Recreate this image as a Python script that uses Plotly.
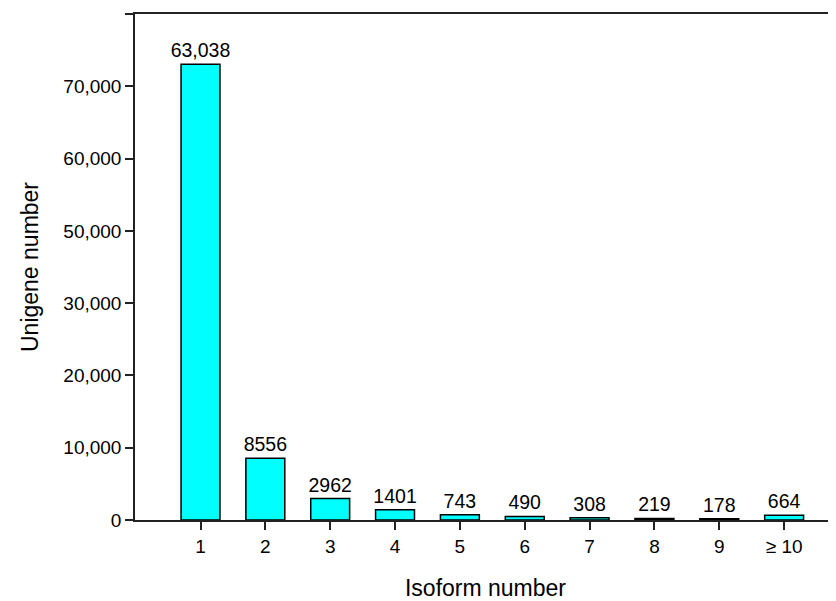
import plotly.graph_objects as go

categories = ["1", "2", "3", "4", "5", "6", "7", "8", "9", "≥ 10"]
values = [63038, 8556, 2962, 1401, 743, 490, 308, 219, 178, 664]
bar_labels = ["63,038", "8556", "2962", "1401", "743", "490", "308", "219", "178", "664"]
y_tickvals = [0, 10000, 20000, 30000, 40000, 50000, 60000, 70000]
y_ticktext = ["0", "10,000", "20,000", "30,000", "50,000", "60,000", "70,000", ""]

FONT = "Liberation Sans, Arial, sans-serif"

# The page body has an 8px default margin, so the figure is sized to fit the 836x601 window.
fig = go.Figure(go.Bar(
    x=list(range(len(categories))),
    y=values,
    width=0.6,
    marker=dict(color="#00FFFF", line=dict(color="#000000", width=1.5)),
    text=bar_labels,
    textposition="outside",
    textangle=0,
    constraintext="none",
    cliponaxis=False,
    textfont=dict(family=FONT, size=19.5, color="#000000"),
))

fig.update_layout(
    width=828, height=593,
    margin=dict(l=127, r=0, t=6, b=81),
    plot_bgcolor="white", paper_bgcolor="white",
    showlegend=False,
    font=dict(family=FONT, size=19, color="#000000"),
    xaxis=dict(
        range=[-1.01, 9.8],
        tickvals=list(range(len(categories))),
        ticktext=categories,
        ticks="outside", ticklen=8, tickwidth=1.5, tickcolor="#222",
        showline=True, linecolor="#222", linewidth=1.5, mirror=True,
        showgrid=False, zeroline=False,
        tickfont=dict(size=19),
        title=dict(text="Isoform number", font=dict(size=23), standoff=27),
    ),
    yaxis=dict(
        range=[0, 70000],
        tickvals=y_tickvals,
        ticktext=y_ticktext,
        ticks="outside", ticklen=8, tickwidth=1.5, tickcolor="#222",
        showline=True, linecolor="#222", linewidth=1.5,
        showgrid=False, zeroline=False,
        tickfont=dict(size=19),
        title=dict(text="Unigene number", font=dict(size=23), standoff=18),
    ),
)

fig.write_html("out.html")
